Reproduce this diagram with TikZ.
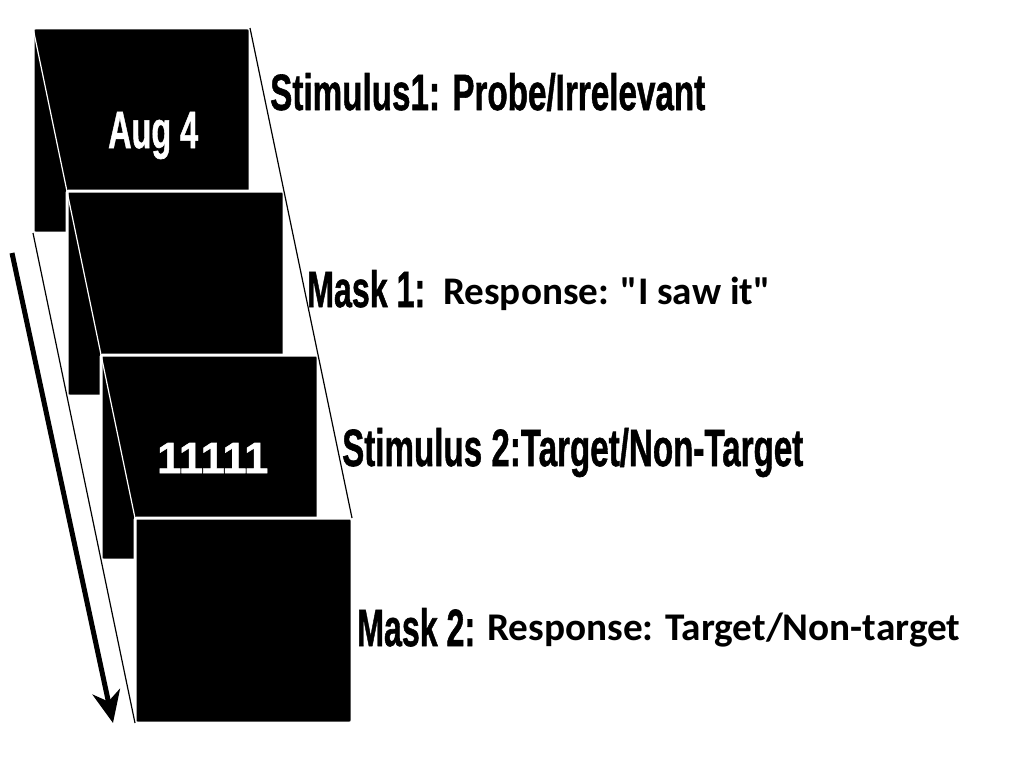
\documentclass[tikz,border=0pt]{standalone}
\usepackage{fontspec}
\usepackage{graphicx}
\setmainfont{Liberation Sans}
\newfontfamily\calib{Carlito}
\newfontfamily\condfont[FakeBold=1.2]{Liberation Sans Bold}
\usetikzlibrary{arrows.meta}
\begin{document}
\begin{tikzpicture}[x=1pt,y=-1pt,
  panel/.style={fill=black, draw=white, line width=3pt, rounded corners=2pt, anchor=north west,
    minimum width=217pt, minimum height=205pt, inner sep=0pt, outer sep=0pt},
  cond/.style={anchor=base west, inner sep=0pt, font=\condfont},
  resp/.style={anchor=base west, inner sep=0pt, font=\calib\bfseries},
  edgeline/.style={line width=1.2pt},
]
\useasboundingbox[fill=white] (0,0) rectangle (1024,768);

\node[panel] (p1) at (33,28) {};
\node[panel] (p2) at (67,191) {};
\node[panel] (p3) at (101,355) {};
\node[panel] (p4) at (135,518) {};

\draw[white, edgeline] (p1.north west) -- (p4.north west);
\draw[black, edgeline] (p1.north east) -- (p4.north east);
\draw[black, edgeline] (p1.south west) -- (p4.south west);

\coordinate (a0) at (12,253);
\coordinate (a1) at (113,723);
\draw[line width=5pt, -{Stealth[length=32pt, width=28pt, inset=10pt]}] (a0) -- (a1);

\node[cond, text=white] (aug) at (108,148) {\resizebox{90pt}{36pt}{Aug 4}};
\node[cond, text=white] (num) at (157,473) {\resizebox{111pt}{30pt}{11111}};

\node[cond] (t1) at (270,110) {\resizebox{435pt}{37pt}{Stimulus1: Probe/Irrelevant}};
\node[cond] (m1) at (307,307) {\resizebox{118pt}{37pt}{Mask 1:}};
\node[resp] (r1) at (443,304) {\resizebox{327pt}{!}{Response: "I saw it"}};
\node[cond] (t2) at (342,466) {\resizebox{461pt}{38pt}{Stimulus 2:Target/Non-Target}};
\node[cond] (m2) at (357,646) {\resizebox{118pt}{38pt}{Mask 2:}};
\node[resp] (r2) at (487,640) {\resizebox{473pt}{!}{Response: Target/Non-target}};
\end{tikzpicture}
\end{document}
